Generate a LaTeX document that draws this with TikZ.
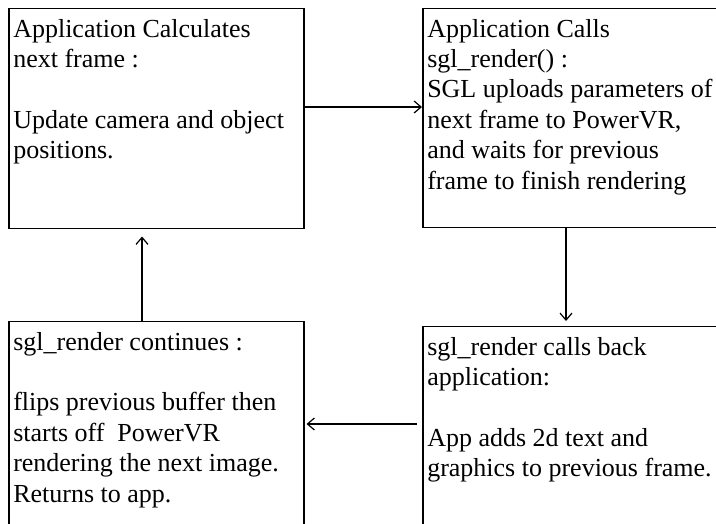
\documentclass[tikz,border=0pt]{standalone}
\usepackage{fontspec}
\setmainfont{Liberation Serif}
\usepackage{tikz}
\usetikzlibrary{positioning}
\usetikzlibrary{arrows.meta}
\newcommand{\stagetext}[3]{\parbox[t][#1][t]{#2}{\raggedright\strut #3}}
\tikzset{
    stage/.style={draw, line width=1.5pt, anchor=north west, inner xsep=4.5pt, inner ysep=7pt,
        font=\fontsize{26}{30.4}\selectfont},
    flow/.style={-{Straight Barb[length=7pt,width=12pt]}, line width=1.2pt},
}
\begin{document}
\begin{tikzpicture}[x=1pt,y=-1pt]
    \useasboundingbox (0,0) rectangle (716,524);
    \clip (0,0) rectangle (716,524);

    \node[stage] (calc) at (8,8) {\stagetext{206pt}{286pt}{Application Calculates\\ next frame :\\[30.4pt] Update camera and object\\ positions.}};
    \node[stage] (calls) at (422,8) {\stagetext{205pt}{310pt}{Application Calls\\ sgl\_render() :\\ SGL uploads parameters of\\ next frame to PowerVR,\\ and waits for previous\\ frame to finish rendering}};
    \node[stage] (cont) at (8,321) {\stagetext{230pt}{286pt}{sgl\_render continues :\\[30.4pt] flips previous buffer then\\ starts off~ PowerVR\\ rendering the next image.\\ Returns to app.}};
    \node[stage] (back) at (422,326) {\stagetext{230pt}{310pt}{sgl\_render calls back\\ application:\\[30.4pt] App adds 2d text and\\ graphics to previous frame.}};

    \draw[flow] (calc.east |- 0,107) -- (calls.west |- 0,107);
    \draw[flow, shorten >=5pt] (calls.south -| 566,0) -- (back.north -| 566,0);
    \draw[flow, shorten <=5pt, shorten >=2pt] (back.west |- 0,424) -- (cont.east |- 0,424);
    \draw[flow, shorten >=7pt] (cont.north -| 142,0) -- (calc.south -| 142,0);
\end{tikzpicture}
\end{document}
